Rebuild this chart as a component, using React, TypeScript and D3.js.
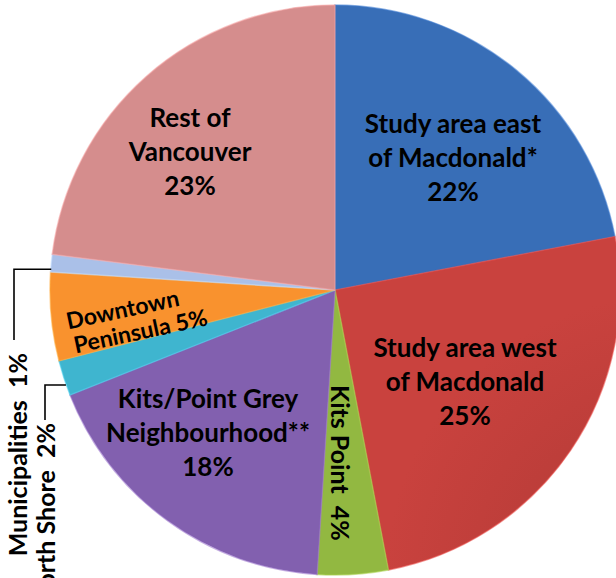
import * as d3 from "d3"

// shares of trips by origin, clockwise from 12 o'clock
const regions = [
  "Study area east of Macdonald*",
  "Study area west of Macdonald",
  "Kits Point",
  "Kits/Point Grey Neighbourhood**",
  "North Shore",
  "Downtown Peninsula",
  "Municipalities",
  "Rest of Vancouver",
]
const shares = [22, 25, 4, 18, 2, 5, 1, 23]
const colors = ["#3669af", "#c13f3b", "#8cb03e", "#7d5ca8", "#3cadc6", "#ef8c2c", "#a3b8de", "#cc8787"]

const width = 616
const height = 578
const cx = 335
const cy = 290
const radius = 285
const font = "Lato, 'Open Sans', sans-serif"

export default function App() {
  const pie = d3
    .pie<number>()
    .sort(null)
    .value((d) => d)
  const arcs = pie(shares)
  const arc = d3.arc<d3.PieArcDatum<number>>().innerRadius(0).outerRadius(radius)

  // point on the rim at a slice's mid-angle
  const rim = (i: number) => {
    const a = (arcs[i].startAngle + arcs[i].endAngle) / 2
    return [cx + radius * Math.sin(a), cy - radius * Math.cos(a)]
  }
  const pct = (i: number) => `${shares[i]}%`

  const label = (lines: string[], x: number, y: number, key: string) => (
    <text key={key} x={x} y={y} textAnchor="middle" fontFamily={font} fontWeight="bold" fontSize={26}>
      {lines.map((l, j) => (
        <tspan key={j} x={x} dy={j === 0 ? 0 : 34}>
          {l}
        </tspan>
      ))}
    </text>
  )

  const [lbx, lby] = rim(6)
  const [nsx, nsy] = rim(4)

  return (
    <svg width={width} height={height} style={{ position: "absolute", left: 0, top: 0, background: "#fff" }}>
      <defs>
        {colors.map((c, i) => (
          <radialGradient key={i} id={`g${i}`} cx={cx} cy={cy} r={radius} gradientUnits="userSpaceOnUse">
            <stop offset="0%" stopColor={d3.color(c)!.darker(0.3).toString()} />
            <stop offset="70%" stopColor={c} />
            <stop offset="100%" stopColor={d3.color(c)!.brighter(0.12).toString()} />
          </radialGradient>
        ))}
      </defs>
      <g transform={`translate(${cx},${cy})`}>
        {arcs.map((a, i) => (
          <path
            key={regions[i]}
            d={arc(a) ?? ""}
            fill={`url(#g${i})`}
            stroke={d3.color(colors[i])!.brighter(0.5).toString()}
            strokeOpacity={0.55}
            strokeWidth={1.5}
          />
        ))}
      </g>

      {label(["Rest of", "Vancouver", pct(7)], 190, 127, "rest")}
      {label(["Study area east", "of Macdonald*", pct(0)], 453, 133, "east")}
      {label(["Study area west", "of Macdonald", pct(1)], 465, 357, "west")}
      {label(["Kits/Point Grey", "Neighbourhood**", pct(3)], 208, 408, "kpg")}

      <text
        transform="translate(331,385) rotate(90)"
        fontFamily={font}
        fontWeight="bold"
        fontSize={25}
        style={{ whiteSpace: "pre" }}
      >
        {`Kits Point  ${pct(2)}`}
      </text>

      <g transform="translate(132,320) rotate(-12)">
        <text textAnchor="middle" fontFamily={font} fontWeight="bold" fontSize={23}>
          <tspan x={-7} y={-4}>Downtown</tspan>
          <tspan x={6} y={21}>{`Peninsula ${pct(5)}`}</tspan>
        </text>
      </g>

      {/* leader lines for the two thin slices */}
      <path d={`M${lbx},${lby + 6}H14V340`} fill="none" stroke="#000" strokeWidth={1.6} />
      <path d={`M${nsx + 2},${nsy + 7}H45V420`} fill="none" stroke="#000" strokeWidth={1.6} />

      <text
        transform="translate(27,353) rotate(-90)"
        textAnchor="end"
        fontFamily={font}
        fontWeight="bold"
        fontSize={25}
        style={{ whiteSpace: "pre" }}
      >
        {`${regions[6]}  ${pct(6)}`}
      </text>
      <text
        transform="translate(55,423) rotate(-90)"
        textAnchor="end"
        fontFamily={font}
        fontWeight="bold"
        fontSize={25}
        style={{ whiteSpace: "pre" }}
      >
        {`${regions[4]}  ${pct(4)}`}
      </text>
    </svg>
  )
}
